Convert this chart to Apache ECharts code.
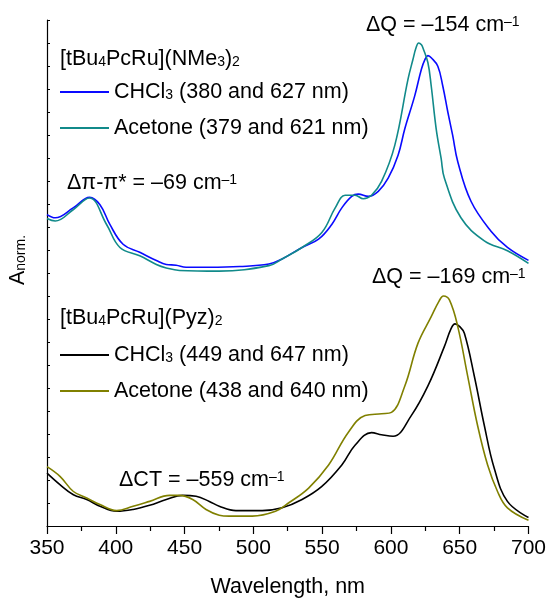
<!DOCTYPE html>
<html>
<head>
<meta charset="utf-8">
<script src="https://cdn.jsdelivr.net/npm/echarts@6/dist/echarts.min.js"></script>
<style>
  html, body { margin: 0; padding: 0; background: #fff; }
  #chart { width: 549px; height: 603px; }
</style>
</head>
<body>
<div id="chart"></div>
<script>
// [tBu4PcRu](NMe3)2
var nmeChclName = 'CHCl3 (380 and 627 nm)';
var nmeChclNm = [350, 356, 369, 381, 388.5, 395.7, 405.3, 417.4, 429.5, 436.7, 443.9, 451.1, 468, 490, 511.3, 520.9, 535.4, 547.4, 557, 564.3, 571.5, 576.3, 583.5, 590.8, 598, 605.2, 610.1, 617.3, 622.1, 624.7, 626.9, 629.5, 634.1, 637.7, 641.4, 644.9, 648.6, 658.2, 672.6, 684.7, 700];
var nmeChclA = [1.354, 1.340, 1.383, 1.429, 1.397, 1.311, 1.225, 1.190, 1.154, 1.137, 1.134, 1.125, 1.125, 1.128, 1.139, 1.161, 1.211, 1.247, 1.311, 1.383, 1.433, 1.443, 1.433, 1.455, 1.512, 1.612, 1.727, 1.870, 1.985, 2.028, 2.045, 2.035, 1.999, 1.913, 1.799, 1.698, 1.584, 1.412, 1.283, 1.211, 1.155];

var nmeAcetName = 'Acetone (379 and 621 nm)';
var nmeAcetNm = [350, 356, 369, 380.8, 393.3, 403, 417.4, 429.5, 436.7, 446.3, 475.2, 511.3, 520.9, 535.4, 549.8, 559.5, 566.7, 573.9, 579.9, 585.9, 593.2, 602.8, 612.4, 616, 618.2, 620.2, 622.2, 623.3, 626.9, 629.3, 632.9, 636.5, 638.9, 650.9, 667.9, 684.7, 700];
var nmeAcetA = [1.337, 1.326, 1.375, 1.426, 1.311, 1.211, 1.175, 1.137, 1.122, 1.111, 1.108, 1.132, 1.161, 1.211, 1.276, 1.383, 1.438, 1.438, 1.423, 1.438, 1.498, 1.655, 1.942, 2.028, 2.078, 2.100, 2.092, 2.078, 2.014, 1.913, 1.727, 1.598, 1.512, 1.340, 1.240, 1.197, 1.142];

// [tBu4PcRu](Pyz)2
var pyzChclName = 'CHCl3 (449 and 647 nm)';
var pyzChclNm = [350, 359.6, 369.2, 378.9, 388.5, 400.6, 412.6, 424.6, 436.7, 448.7, 458.4, 468, 475.2, 487.3, 506.5, 520.9, 535.4, 549.8, 564.3, 573.9, 585.9, 593.2, 601.6, 614.8, 626.9, 638.9, 643.5, 646.6, 649.8, 653.4, 660.6, 667.9, 675.1, 684.7, 700];
var pyzChclA = [0.230, 0.179, 0.136, 0.115, 0.086, 0.064, 0.072, 0.090, 0.115, 0.133, 0.129, 0.107, 0.086, 0.067, 0.067, 0.079, 0.115, 0.172, 0.265, 0.351, 0.406, 0.397, 0.390, 0.480, 0.609, 0.781, 0.855, 0.879, 0.868, 0.838, 0.652, 0.437, 0.251, 0.107, 0.037];

var pyzAcetName = 'Acetone (438 and 640 nm)';
var pyzAcetNm = [350, 359.6, 369.2, 378.9, 388.5, 400.6, 412.6, 424.6, 439.1, 446.3, 455.9, 465.6, 475.2, 482.4, 499.2, 516.1, 525.8, 540.2, 554.7, 569.1, 581.2, 593.2, 600.4, 610.1, 619.7, 629.3, 635, 638.2, 642.6, 648.6, 655.8, 663, 670.3, 677.5, 684.7, 700];
var pyzAcetA = [0.258, 0.215, 0.150, 0.122, 0.093, 0.067, 0.086, 0.107, 0.133, 0.133, 0.115, 0.072, 0.047, 0.043, 0.043, 0.064, 0.101, 0.165, 0.265, 0.408, 0.480, 0.488, 0.494, 0.609, 0.795, 0.910, 0.978, 1.000, 0.982, 0.867, 0.652, 0.437, 0.265, 0.150, 0.079, 0.025];

var FONT = 'Liberation Sans, Arial, sans-serif';
var FS = 21.5;

function pairs(xs, ys) {
  return xs.map(function (x, i) { return [x, ys[i]]; });
}

var richTags = {
  sub: { fontSize: 14, lineHeight: 6, verticalAlign: 'bottom', fontFamily: FONT, fill: '#000', color: '#000' },
  sup: { fontSize: 14, lineHeight: 2, verticalAlign: 'top', fontFamily: FONT, fill: '#000', color: '#000' }
};

function label(x, y, text) {
  return {
    type: 'text',
    x: x,
    y: y,
    style: {
      text: text,
      fontSize: FS,
      lineHeight: 20,
      fontFamily: FONT,
      fill: '#000',
      verticalAlign: 'middle',
      rich: richTags
    }
  };
}

function legendFor(names, top) {
  return {
    data: names,
    orient: 'vertical',
    left: 55,
    top: top,
    icon: 'rect',
    itemWidth: 49,
    itemHeight: 2,
    itemGap: 14,
    selectedMode: false,
    formatter: function (name) {
      return name.replace('CHCl3', 'CHCl{sub|3}');
    },
    textStyle: {
      fontSize: FS,
      lineHeight: 20,
      fontFamily: FONT,
      color: '#000',
      rich: richTags
    }
  };
}

function line(name, xs, ys, color) {
  return {
    name: name,
    type: 'line',
    data: pairs(xs, ys),
    smooth: 0.4,
    symbol: 'none',
    lineStyle: { color: color, width: 1.6 },
    itemStyle: { color: color }
  };
}

var myChart = echarts.init(document.getElementById('chart'));

var option = {
  animation: false,
  grid: { left: 47, right: 18, top: 20, bottom: 71 },
  legend: [
    legendFor([nmeChclName, nmeAcetName], 76),
    legendFor([pyzChclName, pyzAcetName], 339)
  ],
  xAxis: {
    type: 'value',
    min: 350,
    max: 700,
    interval: 50,
    name: 'Wavelength, nm',
    nameLocation: 'middle',
    nameGap: 50,
    nameTextStyle: { fontSize: FS, fontFamily: FONT, color: '#000' },
    axisLine: { lineStyle: { color: '#000', width: 1.2 } },
    axisTick: { length: 8, lineStyle: { color: '#000', width: 1.2 } },
    minorTick: { show: true, splitNumber: 2, length: 5, lineStyle: { color: '#000', width: 1.2 } },
    axisLabel: { fontSize: 21, fontFamily: FONT, color: '#000', margin: 12 },
    splitLine: { show: false }
  },
  yAxis: {
    type: 'value',
    min: 0,
    max: 2.2,
    interval: 0.1,
    axisLine: { show: true, lineStyle: { color: '#000', width: 1.2 } },
    axisTick: { show: true, inside: true, length: 3, lineStyle: { color: '#000' } },
    axisLabel: { show: false },
    splitLine: { show: false }
  },
  graphic: [
    label(60, 59, '[tBu{sub|4}PcRu](NMe{sub|3}){sub|2}'),
    label(366, 25, 'ΔQ = –154 cm{sup|–1}'),
    label(67, 183, 'Δπ-π* = –69 cm{sup|–1}'),
    label(372, 277, 'ΔQ = –169 cm{sup|–1}'),
    label(60, 318, '[tBu{sub|4}PcRu](Pyz){sub|2}'),
    label(119, 480, 'ΔCT = –559 cm{sup|–1}'),
    {
      type: 'text',
      x: 18,
      y: 260,
      rotation: Math.PI / 2,
      style: {
        text: 'A{sub|norm.}',
        fontSize: FS,
        lineHeight: 20,
        fontFamily: FONT,
        fill: '#000',
        align: 'center',
        verticalAlign: 'middle',
        rich: richTags
      }
    }
  ],
  series: [
    line(nmeChclName, nmeChclNm, nmeChclA, '#0a0aff'),
    line(nmeAcetName, nmeAcetNm, nmeAcetA, '#118a8a'),
    line(pyzChclName, pyzChclNm, pyzChclA, '#000000'),
    line(pyzAcetName, pyzAcetNm, pyzAcetA, '#808000')
  ]
};

myChart.setOption(option);
</script>
</body>
</html>
